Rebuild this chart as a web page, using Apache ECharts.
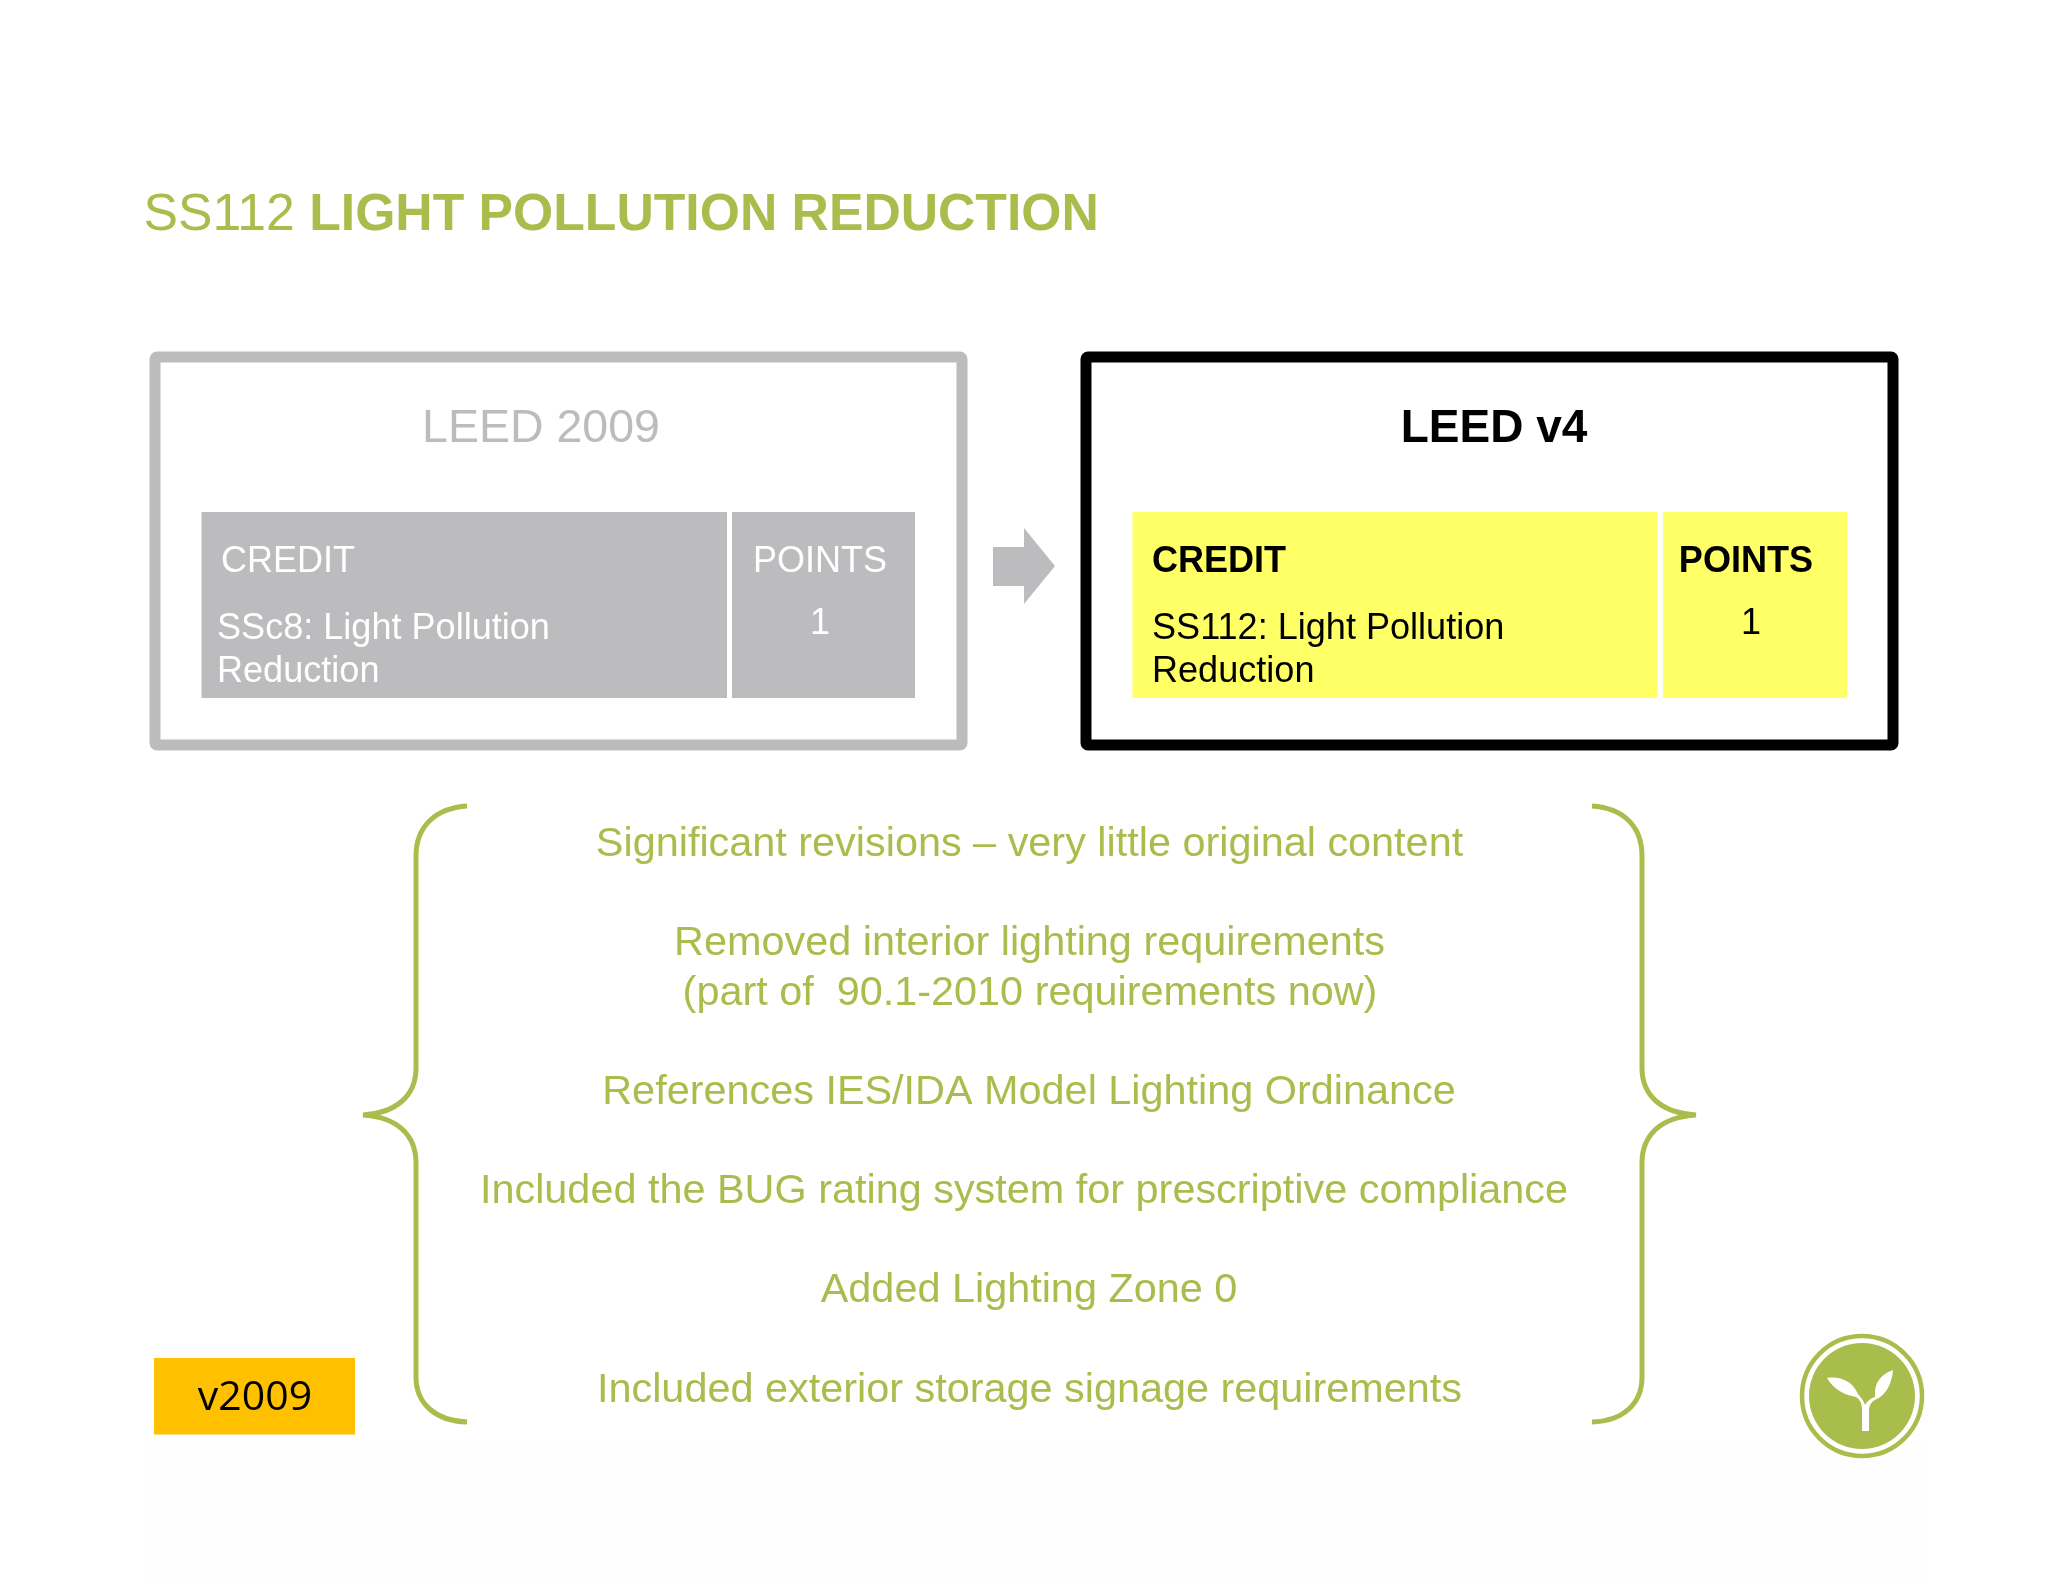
<!DOCTYPE html>
<html>
<head>
<meta charset="utf-8" />
<title>SS112 Light Pollution Reduction</title>
<script src="https://cdn.jsdelivr.net/npm/echarts@6/dist/echarts.min.js"></script>
<style>
html,body{margin:0;padding:0;background:#fff;}
#main{width:2048px;height:1582px;}
</style>
</head>
<body>
<div id="main"></div>
<script>
var titleCode = 'SS112 ';
var titleName = 'LIGHT POLLUTION REDUCTION';
var oldHeading = 'LEED 2009';
var newHeading = 'LEED v4';
var tableHeaders = ['CREDIT', 'POINTS'];
var oldCredit = ['SSc8: Light Pollution', 'Reduction'];
var newCredit = ['SS112: Light Pollution', 'Reduction'];
var pointsValue = ['1'];
var bodyLines = [
  'Significant revisions \u2013 very little original content',
  'Removed interior lighting requirements',
  '(part of  90.1-2010 requirements now)',
  'References IES/IDA Model Lighting Ordinance',
  'Included the BUG rating system for prescriptive compliance',
  'Added Lighting Zone 0',
  'Included exterior storage signage requirements'
];
var versionTag = 'v2009';

var GREEN = '#a9bd4c';
var GREY = '#bcbcbe';
var FONT = '"Liberation Sans", Arial, sans-serif';

function box(x, y, w, h, color) {
  return {type:'rect', shape:{x:x, y:y, width:w, height:h}, style:{fill:color}};
}
function frame(x, y, w, h, color) {
  return {type:'rect', shape:{x:x, y:y, width:w, height:h, r:2},
    style:{fill:'#fff', stroke:color, lineWidth:11, lineJoin:'round'}};
}
function label(t, x, y, size, color, weight, align) {
  return {type:'text', x:x, y:y, style:{
    text:t, fill:color, font:(weight || 'normal') + ' ' + size + 'px ' + FONT,
    align:align || 'left', verticalAlign:'middle'
  }};
}

var items = [];
items.push(box(143, 1443, 1780, 139, '#fefefe'));

// title
items.push({type:'text', x:143.5, y:216, style:{
  text:'{a|' + titleCode + '}{b|' + titleName + '}',
  verticalAlign:'middle', align:'left',
  rich:{
    a:{font:'normal 51.7px ' + FONT, fill:GREEN},
    b:{font:'bold 51.7px ' + FONT, fill:GREEN}
  }
}});

// left panel
items.push(frame(155, 357, 807, 388, GREY));
items.push(label(oldHeading, 541, 429, 46.5, GREY, 'normal', 'center'));
items.push(box(201.5, 512, 525.5, 186, GREY));
items.push(box(732, 512, 183, 186, GREY));
items.push(label(tableHeaders[0], 221, 562, 36, '#fff'));
items.push(label(tableHeaders[1], 820, 562, 36, '#fff', 'normal', 'center'));
items.push(label(oldCredit[0], 217, 629, 36.1, '#fff'));
items.push(label(oldCredit[1], 217, 672.5, 36.1, '#fff'));
items.push(label(pointsValue[0], 820, 624, 36, '#fff', 'normal', 'center'));

// arrow
items.push({type:'polygon', shape:{points:[[993,547],[1024,547],[1024,528],[1055,566],[1024,604],[1024,586],[993,586]]}, style:{fill:GREY}});

// right panel
items.push(frame(1086, 357, 807, 388, '#000'));
items.push(label(newHeading, 1494, 429, 46, '#000', 'bold', 'center'));
items.push(box(1132.5, 512, 525, 186, '#ffff66'));
items.push(box(1663, 512, 184, 186, '#ffff66'));
items.push(label(tableHeaders[0], 1152, 562, 36, '#000', 'bold'));
items.push(label(tableHeaders[1], 1746, 562, 36.1, '#000', 'bold', 'center'));
items.push(label(newCredit[0], 1152, 629, 36.1, '#000'));
items.push(label(newCredit[1], 1152, 672.5, 36.1, '#000'));
items.push(label(pointsValue[0], 1751, 624, 36, '#000', 'normal', 'center'));

// body text, the BUG line sits a little left of the others
var lineY = [845, 944, 994, 1093, 1192, 1291, 1391];
var lineX = [1029.5, 1029.5, 1030, 1029, 1024, 1029, 1029.5];
bodyLines.forEach(function (t, i) {
  items.push(label(t, lineX[i], lineY[i], 41.4, GREEN, 'normal', 'center'));
});

// version tag
items.push(box(154, 1358, 201, 76.5, '#ffc000'));
items.push({type:'text', x:255, y:1398, style:{
  text:versionTag, fill:'#000', font:'normal 41px "Open Sans", sans-serif', align:'center', verticalAlign:'middle'
}});

// logo discs
items.push({type:'circle', shape:{cx:1862, cy:1396, r:60}, style:{fill:'#fff', stroke:GREEN, lineWidth:4.5}});
items.push({type:'circle', shape:{cx:1862, cy:1396, r:53}, style:{fill:GREEN}});

// free-form outlines, the graphic component has no path type so these go through a custom series
var strokePaths = [
  'M467 806 C436 808 416 826 416 856 L416 1068 C416 1096 396 1113 363 1115 C396 1117 416 1134 416 1163 L416 1377 C416 1404 436 1421 467 1422',
  'M1592 806 C1623 808 1642 826 1642 856 L1642 1068 C1642 1096 1662 1113 1696 1115 C1662 1117 1642 1134 1642 1163 L1642 1377 C1642 1404 1623 1421 1592 1422'
];
var sproutPath = 'M1827 1378 C1841 1376 1853 1382 1858 1394 C1861 1398 1864 1401 1865 1405 C1867 1401 1871 1398 1875 1397 ' +
  'C1874 1383 1880 1375 1893 1370 C1892 1382 1887 1395 1875 1400 C1871 1402 1869 1406 1869 1410 L1869 1431 L1862 1431 ' +
  'L1862 1410 C1862 1404 1860 1399 1856 1397 C1845 1395 1834 1390 1827 1378 Z';

var chart = echarts.init(document.getElementById('main'), null, {renderer:'canvas'});
chart.setOption({
  backgroundColor:'#fff',
  animation:false,
  graphic:{elements:items},
  series:[{
    type:'custom',
    coordinateSystem:'none',
    silent:true,
    data:[0],
    renderItem:function () {
      var kids = strokePaths.map(function (p) {
        return {type:'path', shape:{pathData:p}, style:{fill:'none', stroke:GREEN, lineWidth:5, lineCap:'butt'}};
      });
      kids.push({type:'path', shape:{pathData:sproutPath}, style:{fill:'#fff'}});
      return {type:'group', children:kids};
    }
  }]
});
</script>
</body>
</html>
